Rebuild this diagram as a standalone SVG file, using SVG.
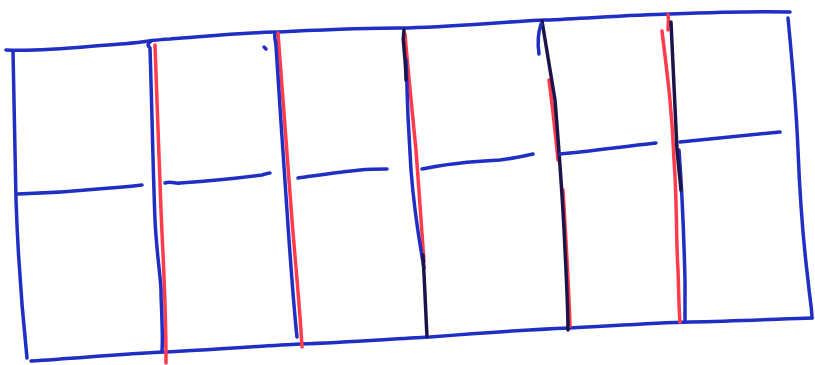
<svg xmlns="http://www.w3.org/2000/svg" width="815" height="365" viewBox="0 0 815 365">
<style>
.b{fill:none;stroke:#1f2fc4;stroke-width:3.5;stroke-linecap:round;stroke-linejoin:round}
.r{fill:none;stroke:#ff3b4c;stroke-width:3.5;stroke-linecap:round;stroke-linejoin:round}
.k{fill:none;stroke:#1c1448;stroke-width:3.5;stroke-linecap:round;stroke-linejoin:round}
</style>
<rect width="815" height="365" fill="#fff"/>
<g id="frame">
<path class="b" d="M6,50 C40,52 80,47 120,44 C140,43 150,40 170,39 C210,36 240,33 275,32 C320,30 360,28 400,28 C450,27 500,22 545,20 C590,18 630,15 670,14 C720,12 760,11 790,12"/>
<path class="b" d="M13,51 C14,100 15,150 16,200 C18,260 22,310 27,358"/>
<path class="b" d="M31,361 C80,358 120,354 165,352 C210,350 260,346 300,344 C350,342 390,339 430,337 C480,333 520,330 570,328 C610,326 650,323 690,322 C740,321 780,319 812,318"/>
<path class="b" d="M788,18 C792,60 796,100 798,150 C800,200 803,240 808,280 C810,300 812,310 812,318"/>
</g>
<g id="dividers">
<path class="r" d="M155,45 C157,100 159,160 161,210 C163,260 166,300 166,363"/>
<path class="b" d="M150,42 C147,44 148,46 150,48 C152,110 153,170 155,220 C157,260 162,285 161,295 C162,320 163,340 162,350"/>
<path class="b" d="M264,47 L266,49"/>
<path class="r" d="M278,33 C283,100 288,170 292,220 C296,270 300,310 302,347"/>
<path class="b" d="M275,34 C274,38 276,42 276,46 C280,110 285,180 289,240 C292,280 294,310 297,337"/>
<path class="r" d="M405,34 C408,70 412,110 416,150 C419,190 421,220 424,262"/>
<path class="b" d="M406,60 C407,100 409,140 411,170 C414,210 419,240 424,268"/>
<path class="k" d="M404,30 C403,36 403,42 404,48 C405,60 406,70 406,80"/>
<path class="k" d="M423,255 C425,290 426,320 427,336"/>
<path class="r" d="M549,80 C553,110 556,140 558,160 M563,190 C566,240 569,290 570,326"/>
<path class="k" d="M542,21 C545,40 550,70 555,100 C559,150 563,200 565,250 C567,290 568,315 568,330"/>
<path class="b" d="M541,24 C539,30 537,40 539,54"/>
<path class="r" d="M668,15 C669,20 668,25 668,30 M662,31 C668,80 672,110 674,160 C677,200 676,240 678,270 C679,300 679,312 680,322"/>
<path class="b" d="M679,150 C682,190 684,240 685,280 C685,300 685,312 685,322"/>
<path class="k" d="M671,22 C673,60 675,100 677,150 C679,170 680,180 681,190"/>
</g>
<g id="midlines">
<path class="b" d="M18,194 C50,193 80,191 110,188 C125,187 135,186 142,185"/>
<path class="b" d="M165,183 C172,181 175,184 180,183 C210,181 240,178 262,175 C266,174 268,173 270,173"/>
<path class="b" d="M298,178 C320,175 340,172 360,170 C370,169 380,169 387,169"/>
<path class="b" d="M422,169 C450,163 480,161 500,160 C515,158 525,156 533,154"/>
<path class="b" d="M560,154 C590,151 620,147 656,143"/>
<path class="b" d="M680,142 C710,139 740,136 780,132"/>
</g>
</svg>
